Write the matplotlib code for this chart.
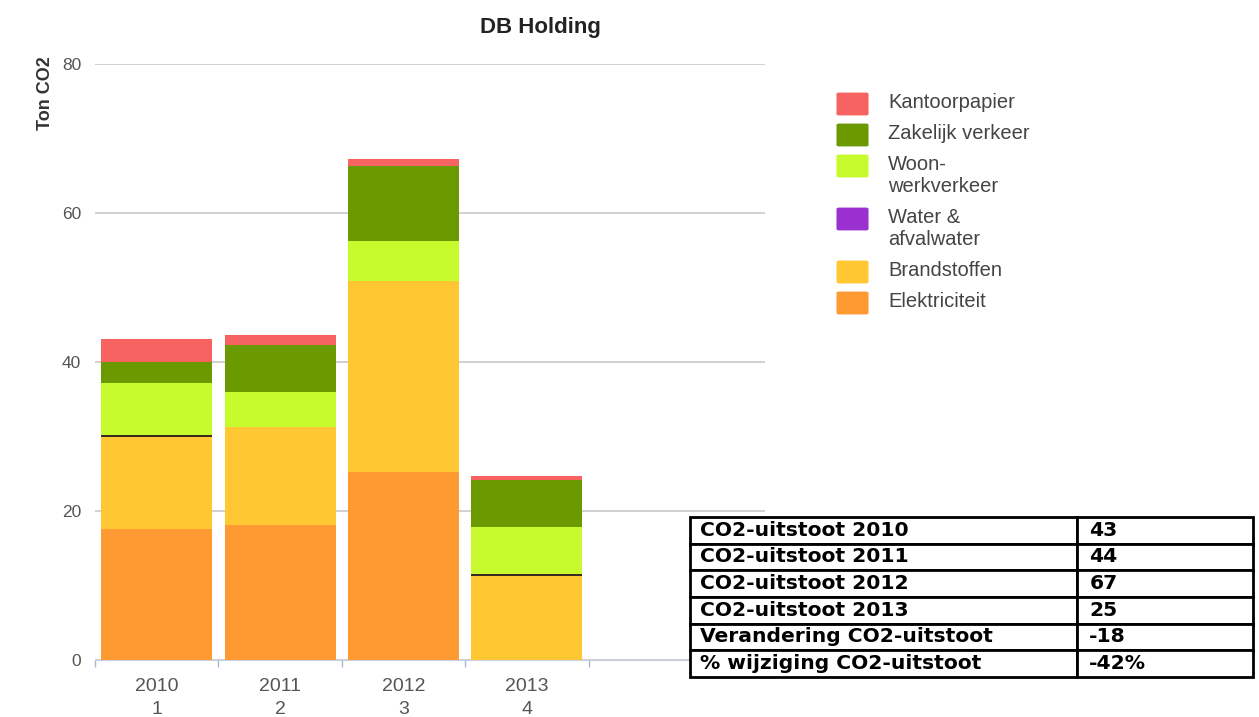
import matplotlib
matplotlib.use("Agg")
import matplotlib.pyplot as plt
from matplotlib.patches import FancyBboxPatch
import numpy as np

years = ["2010", "2011", "2012", "2013"]
idx_labels = ["1", "2", "3", "4"]
series_names = ["Elektriciteit", "Brandstoffen", "Water &\nafvalwater",
                "Woon-\nwerkverkeer", "Zakelijk verkeer", "Kantoorpapier"]
elektriciteit = [17.6, 18.1, 25.2, 0.0]
brandstoffen = [12.3, 13.2, 25.7, 11.3]
water = [0.25, 0.0, 0.0, 0.25]
woonwerk = [7.0, 4.7, 5.3, 6.3]
zakelijk = [2.9, 6.3, 10.1, 6.3]
kantoorpapier = [3.1, 1.3, 0.9, 0.5]
series_colors = ["#ff9a32", "#ffc832", "#3a2a20", "#c8fb2e", "#6a9a00", "#f66360"]
legend_colors = ["#ff9a32", "#ffc832", "#9a30d0", "#c8fb2e", "#6a9a00", "#f66360"]

table_labels = ["CO2-uitstoot 2010", "CO2-uitstoot 2011", "CO2-uitstoot 2012",
                "CO2-uitstoot 2013", "Verandering CO2-uitstoot", "% wijziging CO2-uitstoot"]
table_values = ["43", "44", "67", "25", "-18", "-42%"]

plt.rcParams["font.family"] = ["Liberation Sans", "DejaVu Sans"]

W, H = 1259, 717
fig = plt.figure(figsize=(W / 100, H / 100), dpi=100)
ax = fig.add_axes([95 / W, (H - 660) / H, 670 / W, 596 / H])

data = [elektriciteit, brandstoffen, water, woonwerk, zakelijk, kantoorpapier]
x = np.arange(len(years))
bottom = np.zeros(len(years))
for vals, col in zip(data, series_colors):
    ax.bar(x, vals, bottom=bottom, width=0.9, color=col, linewidth=0, zorder=3)
    bottom += np.array(vals)

ax.set_xlim(-0.5, 4.93)
ax.set_ylim(0, 80)
ax.set_yticks([0, 20, 40, 60, 80])
ax.yaxis.grid(True, color="#c8c8c8", linewidth=1.2, zorder=0)
ax.tick_params(axis="y", length=0, pad=10, labelcolor="#555555", labelsize=12.5)
ax.set_xticks(x)
ax.set_xticklabels([f"{y}\n{i}" for y, i in zip(years, idx_labels)], color="#555555",
                   fontsize=14, linespacing=1.45)
ax.tick_params(axis="x", length=0, pad=13)
ax.set_xticks(np.arange(-0.5, len(years)), minor=True)
ax.tick_params(axis="x", which="minor", length=5, color="#a8b8d8", width=1)
for s in ["top", "right", "left"]:
    ax.spines[s].set_visible(False)
ax.spines["bottom"].set_color("#c8d0e0")
fig.text(46 / W, 1 - 93 / H, "Ton CO2", rotation=90, ha="center", va="center",
         fontsize=13, fontweight="bold", color="#333333")
fig.text(540 / W, 1 - 28 / H, "DB Holding", ha="center", va="center",
         fontsize=16, fontweight="bold", color="#222222")

# legend (manual, top entry first)
yc = 104
for name, col in zip(series_names[::-1], legend_colors[::-1]):
    fig.patches.append(FancyBboxPatch((839 / W, 1 - (yc + 10) / H), 27 / W, 20 / H,
                                      boxstyle="round,pad=0.002", transform=fig.transFigure,
                                      facecolor=col, edgecolor="none"))
    fig.text(888 / W, 1 - (yc - 11) / H, name, ha="left", va="top",
             fontsize=14.5, color="#444444", linespacing=1.2)
    nlines = name.count("\n") + 1
    yc += 31 + 22 * (nlines - 1)

# table
tax = fig.add_axes([690 / W, (H - 677) / H, 563 / W, 160 / H])
tax.axis("off")
cells = [[l, v] for l, v in zip(table_labels, table_values)]
tbl = tax.table(cellText=cells, bbox=[0, 0, 1, 1], colWidths=[387, 176], cellLoc="left")
tbl.auto_set_font_size(False)
for (r, c), cell in tbl.get_celld().items():
    cell.set_linewidth(2)
    cell.set_edgecolor("black")
    cell.PAD = 0.025 if c == 0 else 0.07
    t = cell.get_text()
    t.set_fontsize(14.6)
    t.set_fontweight("bold")
    t.set_color("black")
    t.set_fontfamily("DejaVu Sans")

fig.savefig("out.png", dpi=100)
